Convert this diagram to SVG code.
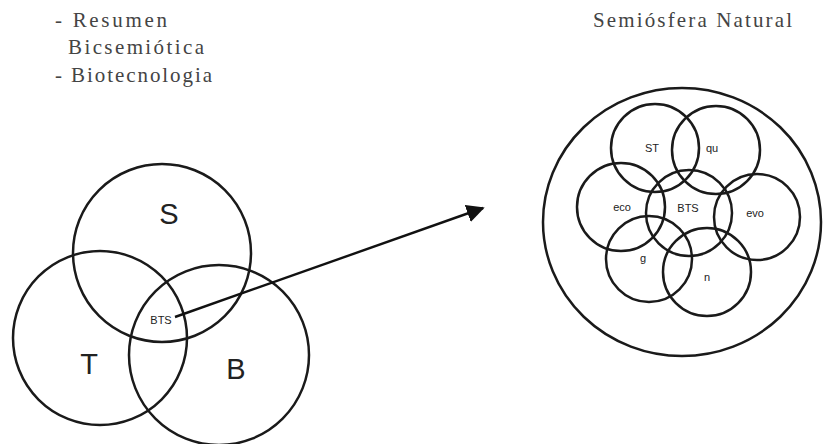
<svg xmlns="http://www.w3.org/2000/svg" width="825" height="444" viewBox="0 0 825 444">
<defs>
<style>
.c{fill:none;stroke:#1a1a1a;stroke-width:2.5}
.t{font-family:"Liberation Serif",serif;fill:#444;font-size:21px}
.big{font-family:"Liberation Sans",Arial,sans-serif;fill:#222;font-size:29px;text-anchor:middle}
.sm{font-family:"Liberation Sans",Arial,sans-serif;fill:#222;font-size:11px;text-anchor:middle}
</style>
<marker id="ah" viewBox="0 0 10 10" refX="9" refY="5" markerWidth="18" markerHeight="18" markerUnits="userSpaceOnUse" orient="auto">
<path d="M0,0 L10,5 L0,10 z" fill="#111"/>
</marker>
</defs>
<rect width="825" height="444" fill="#fff"/>
<g id="titles">
<text class="t" x="55" y="27" textLength="112" lengthAdjust="spacing">- Resumen</text>
<text class="t" x="68" y="54" textLength="136" lengthAdjust="spacing">Bicsemiótica</text>
<text class="t" x="55" y="82" textLength="157" lengthAdjust="spacing">- Biotecnologia</text>
<text class="t" x="593" y="27" textLength="199" lengthAdjust="spacing">Semiósfera Natural</text>
</g>
<g id="node-S"><circle class="c" cx="162" cy="253" r="89"/><text class="big" x="169" y="224">S</text></g>
<g id="node-T"><circle class="c" cx="100" cy="338" r="87"/><text class="big" x="89" y="374">T</text></g>
<g id="node-B"><circle class="c" cx="219" cy="355" r="90"/><text class="big" x="236" y="379">B</text></g>
<g id="node-BTS"><text class="sm" x="161" y="324">BTS</text></g>
<g id="semiosfera">
<ellipse class="c" cx="682" cy="222" rx="139" ry="134"/>
</g>
<g id="node-ST"><circle class="c" cx="655" cy="148" r="44"/><text class="sm" x="652" y="152">ST</text></g>
<g id="node-qu"><circle class="c" cx="716" cy="150" r="44"/><text class="sm" x="712" y="152">qu</text></g>
<g id="node-eco"><circle class="c" cx="621" cy="207" r="44"/><text class="sm" x="622" y="211">eco</text></g>
<g id="node-BTS2"><circle class="c" cx="689" cy="213" r="43"/><text class="sm" x="688" y="212">BTS</text></g>
<g id="node-evo"><circle class="c" cx="757" cy="217" r="43"/><text class="sm" x="755" y="217">evo</text></g>
<g id="node-g"><circle class="c" cx="649" cy="259" r="43"/><text class="sm" x="643" y="262">g</text></g>
<g id="node-n"><circle class="c" cx="707" cy="272" r="44"/><text class="sm" x="707" y="281">n</text></g>
<g id="connectors">
<line x1="175" y1="317" x2="483" y2="208" stroke="#111" stroke-width="2.4" marker-end="url(#ah)"/>
</g>
</svg>
